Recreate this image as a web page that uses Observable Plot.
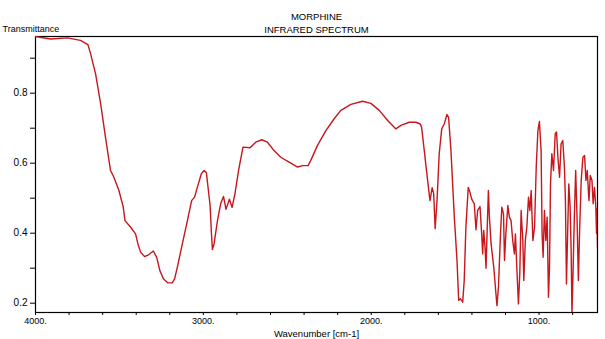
<!DOCTYPE html>
<html>
<head>
<meta charset="utf-8">
<script src="https://cdn.jsdelivr.net/npm/d3@7"></script>
<script src="https://cdn.jsdelivr.net/npm/@observablehq/plot@0.6"></script>
<style>
  html, body { margin: 0; padding: 0; background: #fff; }
</style>
</head>
<body>
<div id="chart"></div>
<script>
const titleLines = ["MORPHINE", "INFRARED SPECTRUM"];
const yAxisTitle = "Transmittance";
const xAxisTitle = "Wavenumber [cm-1]";

const xTicks = [4000, 3800, 3600, 3400, 3200, 3000, 2800, 2600, 2400, 2200, 2000, 1800, 1600, 1400, 1200, 1000, 800];
const xTickLabels = {4000: "4000.", 3000: "3000.", 2000: "2000.", 1000: "1000."};
const yTicks = [0.2, 0.3, 0.4, 0.5, 0.6, 0.7, 0.8, 0.9];
const yTickLabels = {"0.2": "0.2", "0.4": "0.4", "0.6": "0.6", "0.8": "0.8"};

const wavenumber = [
  4000, 3910, 3811, 3732, 3688, 3672, 3642, 3612, 3583, 3553, 3533, 3503, 3477, 3467, 3433, 3404,
  3390, 3374, 3350, 3324, 3298, 3278, 3259, 3238, 3211, 3185, 3171, 3155, 3125, 3095, 3070, 3052,
  3036, 3012, 2996, 2982, 2970, 2960, 2952, 2946, 2936, 2916, 2897, 2880, 2865, 2845, 2829, 2812,
  2790, 2764, 2722, 2688, 2652, 2618, 2579, 2539, 2489, 2439, 2409, 2376, 2360, 2320, 2270, 2221,
  2181, 2121, 2052, 2002, 1952, 1902, 1853, 1823, 1774, 1734, 1708, 1700, 1684, 1664, 1650, 1637,
  1628, 1619, 1608, 1595, 1580, 1565, 1549, 1539, 1525, 1505, 1489, 1479, 1469, 1455, 1446, 1436,
  1422, 1412, 1402, 1386, 1376, 1366, 1352, 1342, 1336, 1330, 1322, 1316, 1310, 1302, 1296, 1286,
  1270, 1257, 1251, 1242, 1230, 1222, 1212, 1206, 1198, 1186, 1177, 1167, 1157, 1147, 1141, 1131,
  1123, 1115, 1107, 1097, 1091, 1082, 1073, 1063, 1055, 1047, 1037, 1027, 1017, 1007, 998, 988,
  982, 976, 968, 960, 952, 944, 938, 932, 924, 914, 904, 896, 888, 878, 869, 859,
  849, 843, 837, 829, 823, 815, 809, 804, 797, 790, 782, 774, 766, 758, 749, 739,
  729, 721, 713, 703, 695, 685, 678, 670, 662, 658, 655, 652
];
const transmittance = [
  0.962, 0.955, 0.958, 0.951, 0.939, 0.913, 0.855, 0.770, 0.674, 0.579, 0.560, 0.522, 0.474, 0.436, 0.417, 0.398,
  0.370, 0.346, 0.333, 0.339, 0.349, 0.331, 0.293, 0.270, 0.258, 0.258, 0.270, 0.303, 0.370, 0.436, 0.493, 0.503,
  0.531, 0.570, 0.579, 0.573, 0.522, 0.480, 0.400, 0.353, 0.370, 0.436, 0.484, 0.505, 0.468, 0.497, 0.474, 0.512,
  0.580, 0.646, 0.644, 0.660, 0.667, 0.660, 0.636, 0.617, 0.603, 0.589, 0.593, 0.593, 0.608, 0.651, 0.693, 0.727,
  0.751, 0.768, 0.777, 0.771, 0.751, 0.722, 0.698, 0.708, 0.717, 0.717, 0.712, 0.703, 0.636, 0.551, 0.493, 0.530,
  0.513, 0.413, 0.493, 0.627, 0.698, 0.712, 0.739, 0.731, 0.636, 0.446, 0.322, 0.208, 0.213, 0.203, 0.265, 0.417,
  0.531, 0.517, 0.498, 0.484, 0.410, 0.465, 0.476, 0.398, 0.341, 0.408, 0.360, 0.300, 0.398, 0.522, 0.446, 0.370,
  0.303, 0.227, 0.193, 0.246, 0.398, 0.474, 0.455, 0.322, 0.398, 0.479, 0.446, 0.436, 0.379, 0.341, 0.398, 0.284,
  0.198, 0.284, 0.465, 0.379, 0.265, 0.379, 0.417, 0.503, 0.465, 0.522, 0.379, 0.417, 0.589, 0.693, 0.719, 0.636,
  0.398, 0.331, 0.465, 0.379, 0.446, 0.217, 0.303, 0.541, 0.627, 0.579, 0.684, 0.689, 0.617, 0.560, 0.655, 0.665,
  0.589, 0.493, 0.255, 0.417, 0.541, 0.474, 0.351, 0.170, 0.303, 0.446, 0.579, 0.446, 0.265, 0.417, 0.551, 0.617,
  0.622, 0.551, 0.579, 0.493, 0.565, 0.551, 0.484, 0.531, 0.474, 0.400, 0.470, 0.360
];

const spectrum = wavenumber.map((w, i) => ({w, t: transmittance[i]}));

const font = "'Liberation Sans', Arial, sans-serif";

const chart = Plot.plot({
  width: 605,
  height: 339,
  marginLeft: 35,
  marginRight: 8,
  marginTop: 36,
  marginBottom: 27,
  style: {fontFamily: font, fontSize: "9px", color: "#000", background: "#fff", overflow: "visible"},
  x: {domain: [4000, 652]},
  y: {domain: [0.1734, 0.962]},
  marks: [
    Plot.frame({stroke: "#000", strokeWidth: 1.2}),
    Plot.axisX({
      ticks: xTicks, tickSize: 3, tickPadding: 2,
      tickFormat: d => xTickLabels[d] ?? "", label: null, fontSize: 9
    }),
    Plot.axisY({
      ticks: yTicks, tickSize: 5, tickPadding: 3,
      tickFormat: d => yTickLabels[d.toFixed(1)] ?? "", label: null, fontSize: 10
    }),
    Plot.line(spectrum, {x: "w", y: "t", stroke: "#c8161d", strokeWidth: 1.4, clip: true}),
    Plot.text([titleLines[0]], {text: d => d, frameAnchor: "top", lineAnchor: "middle", dy: -20, fontSize: 9.5}),
    Plot.text([titleLines[1]], {text: d => d, frameAnchor: "top", lineAnchor: "middle", dy: -7, fontSize: 9.5}),
    Plot.text([yAxisTitle], {text: d => d, frameAnchor: "top-left", lineAnchor: "middle", dx: -33, dy: -7, textAnchor: "start", fontSize: 9}),
    Plot.text([xAxisTitle], {text: d => d, frameAnchor: "bottom", lineAnchor: "middle", dy: 21, fontSize: 9.5})
  ]
});

document.getElementById("chart").appendChild(chart);
</script>
</body>
</html>
